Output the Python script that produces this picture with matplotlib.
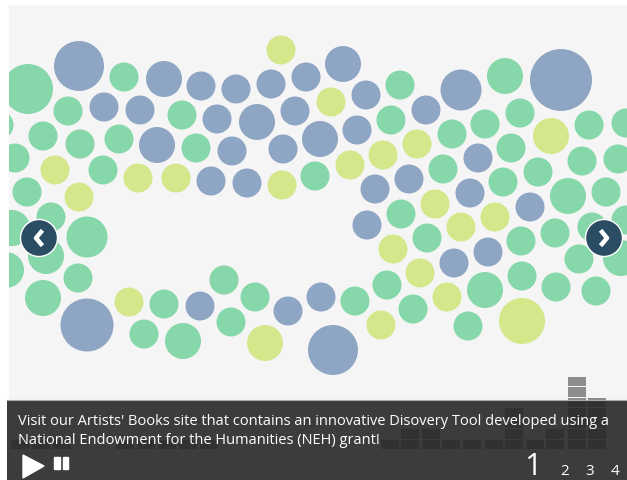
import matplotlib
matplotlib.use('Agg')
import matplotlib.pyplot as plt
from matplotlib.patches import Circle, Rectangle, Polygon

# bubbles, in screen pixels (the packed layout is the data here)
blue_x = [79, 164, 201, 236, 271, 306, 104, 140, 217, 257, 295, 157, 232, 283, 320, 211, 247, 343,
          366, 426, 461, 561, 357, 478, 409, 375, 470, 530, 367, 454, 488, 321, 333, 87, 200, 288]
blue_y = [66, 79, 86, 89, 84, 77, 107, 110, 119, 122, 111, 145, 151, 149, 139, 181, 183, 64,
          95, 110, 90, 80, 130, 158, 179, 189, 193, 207, 225, 263, 252, 297, 350, 325, 306, 311]
blue_r = [25, 18, 14.5, 14.5, 14.5, 14.5, 14.5, 14.5, 14.5, 18, 14.5, 18, 14.5, 14.5, 18, 14.5, 14.5, 18,
          14.5, 14.5, 20.5, 31, 14.5, 14.5, 14.5, 14.5, 14.5, 14.5, 14.5, 14.5, 14.5, 14.5, 25, 26.5, 14.5, 14.5]

green_x = [28, 124, 68, 182, -1, 43, 80, 119, 196, 15, 103, 315, 27, 400, 505, 391, 520, 485, 452, 589,
           626, 511, 582, 618, 443, 538, 503, 568, 606, 401, 427, 521, 555, 592, 621, 626, 579, 387, 485,
           522, 556, 596, 355, 413, 468, 51, 12, 46, 87, 6, 78, 43, 164, 224, 255, 231, 144, 183]
green_y = [89, 77, 111, 115, 125, 136, 144, 139, 148, 158, 170, 176, 192, 85, 76, 120, 113, 124, 134, 125,
           123, 148, 161, 159, 169, 172, 182, 196, 192, 214, 238, 241, 233, 227, 258, 220, 259, 285, 290,
           276, 287, 291, 301, 309, 326, 217, 228, 256, 237, 270, 278, 298, 304, 280, 297, 322, 334, 341]
green_r = [25, 14.5, 14.5, 14.5, 14.5, 14.5, 14.5, 14.5, 14.5, 14.5, 14.5, 14.5, 14.5, 14.5, 18, 14.5, 14.5,
           14.5, 14.5, 14.5, 14.5, 14.5, 14.5, 14.5, 14.5, 14.5, 14.5, 18, 14.5, 14.5, 14.5, 14.5, 14.5, 14.5,
           18, 14.5, 14.5, 14.5, 18, 14.5, 14.5, 14.5, 14.5, 14.5, 14.5, 14.5, 18, 18, 20.5, 18, 14.5, 18,
           14.5, 14.5, 14.5, 14.5, 14.5, 18]

yellow_x = [281, 55, 138, 176, 282, 79, 331, 551, 417, 383, 350, 435, 495, 461, 393, 420, 447, 381, 522, 129, 265]
yellow_y = [50, 170, 178, 178, 185, 197, 102, 136, 144, 155, 165, 204, 217, 227, 249, 273, 297, 325, 321, 302, 343]
yellow_r = [14.5, 14.5, 14.5, 14.5, 14.5, 14.5, 14.5, 18, 14.5, 14.5, 14.5, 14.5, 14.5, 14.5, 14.5, 14.5,
            14.5, 14.5, 23, 14.5, 18]

# histogram sitting behind the caption
hist_x = [20, 41, 62, 125, 146, 167, 188, 209, 390, 410, 431, 451, 472, 494, 514, 535, 555, 577, 597]
hist_blocks = [1, 1, 1, 1, 1, 1, 1, 1, 1, 2, 2, 1, 1, 1, 4, 1, 2, 7, 5]

caption = ["Visit our Artists' Books site that contains an innovative Disovery Tool developed using a",
           "National Endowment for the Humanities (NEH) grant!"]
pages = ['1', '2', '3', '4']
page_x = [533, 565, 590, 615]
page_size = [22, 11, 11, 11]

fig = plt.figure(figsize=(6.27, 4.8), dpi=100)
ax = fig.add_axes([0, 0, 1, 1])
ax.set_xlim(0, 627)
ax.set_ylim(480, 0)
ax.axis('off')

panel = Rectangle((9, 5), 618, 400, color='#f5f5f5', zorder=0)
ax.add_patch(panel)

for xs, ys, rs, col in [(blue_x, blue_y, blue_r, '#8fa5c4'),
                        (green_x, green_y, green_r, '#86d7a9'),
                        (yellow_x, yellow_y, yellow_r, '#d4e78b')]:
    for x, y, r in zip(xs, ys, rs):
        c = Circle((x, y), r, facecolor=col, edgecolor='none', zorder=2)
        ax.add_patch(c)
        c.set_clip_path(panel)

# stacked blocks, 10.5 px each
block_h = 10.5
for x, n in zip(hist_x, hist_blocks):
    ax.bar([x] * n, [block_h - 0.8] * n, width=18,
           bottom=[450 - block_h * (i + 1) for i in range(n)],
           color='#8c8c8c', zorder=3)

# caption strip
ax.add_patch(Rectangle((7, 400), 620, 80, facecolor='#272727', edgecolor='none', alpha=0.9, zorder=4))
ax.plot([7, 627], [400, 400], color='#aaaaaa', lw=0.8, zorder=5)
for i, line in enumerate(caption):
    ax.text(18, 421.5 + i * 19.5, line, color='white', fontsize=10.5, family='Open Sans',
            fontweight='medium', va='center', ha='left', zorder=6)

# play / pause
ax.add_patch(Polygon([(23, 455), (23, 478), (44, 466)], color='white', zorder=6))
ax.add_patch(Rectangle((54, 457), 5.5, 12, color='white', zorder=6))
ax.add_patch(Rectangle((62.5, 457), 5.5, 12, color='white', zorder=6))

for p, x, s in zip(pages, page_x, page_size):
    ax.text(x, 475, p, color='white', fontsize=s, family='Open Sans', fontweight='medium',
            ha='center', va='baseline', zorder=6)

# nav buttons
for x, pts in [(39, [(41, 232), (36, 238), (41, 244)]), (604, [(602, 232), (607, 238), (602, 244)])]:
    ax.add_patch(Circle((x, 238), 18.5, facecolor='#2b4d63', edgecolor='white', lw=1, zorder=7))
    ax.plot(*zip(*pts), color='white', lw=3.2, zorder=8)

fig.savefig('out.png', dpi=100)
